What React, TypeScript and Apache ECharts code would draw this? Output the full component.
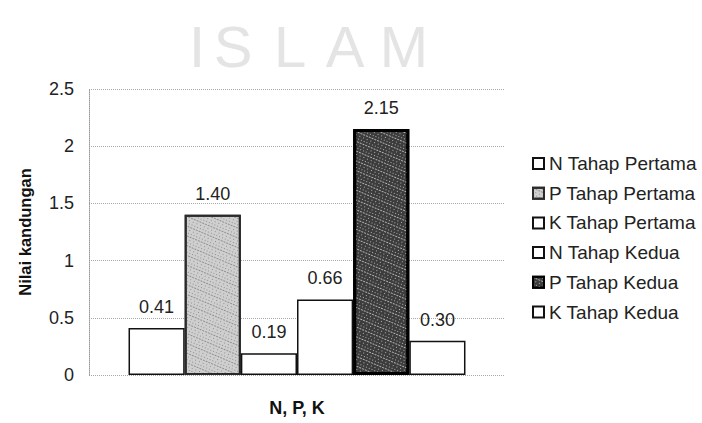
import React, { useEffect, useRef } from "react";
import * as echarts from "echarts";

const categories = ["N, P, K"];
const seriesNames = [
  "N Tahap Pertama",
  "P Tahap Pertama",
  "K Tahap Pertama",
  "N Tahap Kedua",
  "P Tahap Kedua",
  "K Tahap Kedua",
];
const seriesValues = [0.41, 1.4, 0.19, 0.66, 2.15, 0.3];
const fills = ["#ffffff", "#cfcfcf", "#ffffff", "#ffffff", "#3c3c3c", "#ffffff"];
const speckles = [null, "rgba(90,90,90,0.55)", null, null, "rgba(215,215,215,0.75)", null];
const borders = ["#111111", "#2a2a2a", "#111111", "#111111", "#000000", "#111111"];
const borderWidths = [1.5, 2, 1.5, 1.5, 3, 1.5];
const yTicks = { min: 0, max: 2.5, interval: 0.5 };
const watermark = [
  { ch: "I", x: 197 },
  { ch: "S", x: 233 },
  { ch: "L", x: 290 },
  { ch: "A", x: 345 },
  { ch: "M", x: 404 },
];

const FONT = "'Liberation Sans', Arial, sans-serif";

export default function App() {
  const ref = useRef<HTMLDivElement>(null);
  useEffect(() => {
    if (!ref.current) return;
    const chart = echarts.init(ref.current, null, { renderer: "svg" });
    chart.setOption({
      animation: false,
      backgroundColor: "#ffffff",
      textStyle: { fontFamily: FONT },
      graphic: watermark.map((w) => ({
        type: "text",
        x: w.x,
        y: 46,
        z: -10,
        silent: true,
        style: {
          text: w.ch,
          fontFamily: FONT,
          fontSize: 58,
          fill: "#e4e4e4",
          align: "center",
          verticalAlign: "middle",
        },
      })),
      grid: { left: 89, right: 197, top: 89, bottom: 48 },
      legend: {
        orient: "vertical",
        left: 527,
        top: 149,
        icon: "rect",
        itemWidth: 11,
        itemHeight: 11,
        itemGap: 10.7,
        textStyle: { fontSize: 19, color: "#222", fontFamily: FONT },
        data: seriesNames,
      },
      xAxis: {
        type: "category",
        data: categories,
        axisLine: { show: false },
        axisTick: { show: false },
        axisLabel: {
          margin: 24,
          fontSize: 18,
          fontWeight: "bold",
          color: "#111",
          fontFamily: FONT,
        },
      },
      yAxis: {
        type: "value",
        min: yTicks.min,
        max: yTicks.max,
        interval: yTicks.interval,
        name: "Nilai kandungan",
        nameLocation: "middle",
        nameGap: 56,
        nameTextStyle: { fontSize: 16.5, fontWeight: "bold", color: "#111", fontFamily: FONT },
        axisLine: { show: true, lineStyle: { color: "#999", type: "dotted", width: 1 } },
        axisTick: { show: false },
        axisLabel: { margin: 15, fontSize: 18, color: "#222", fontFamily: FONT },
        splitLine: { show: true, lineStyle: { color: "#a8a8a8", type: "dotted", width: 1 } },
      },
      series: seriesNames.map((name, i) => ({
        name,
        type: "bar",
        data: [seriesValues[i]],
        barGap: "0%",
        barCategoryGap: "19%",
        itemStyle: {
          color: fills[i],
          borderColor: borders[i],
          borderWidth: borderWidths[i],
          decal: speckles[i]
            ? {
                symbol: "rect",
                symbolSize: 1,
                color: speckles[i],
                dashArrayX: [[1, 2], [2, 1], [1, 3]],
                dashArrayY: [1, 2],
                rotation: 0.4,
              }
            : undefined,
        },
        label: {
          show: true,
          position: "top",
          distance: 12,
          fontSize: 18,
          color: "#222",
          fontFamily: FONT,
          formatter: (p: any) => Number(p.value).toFixed(2),
        },
      })),
    });
    return () => chart.dispose();
  }, []);
  return (
    <div
      ref={ref}
      style={{ position: "absolute", left: 0, top: 0, width: 702, height: 423 }}
    />
  );
}
